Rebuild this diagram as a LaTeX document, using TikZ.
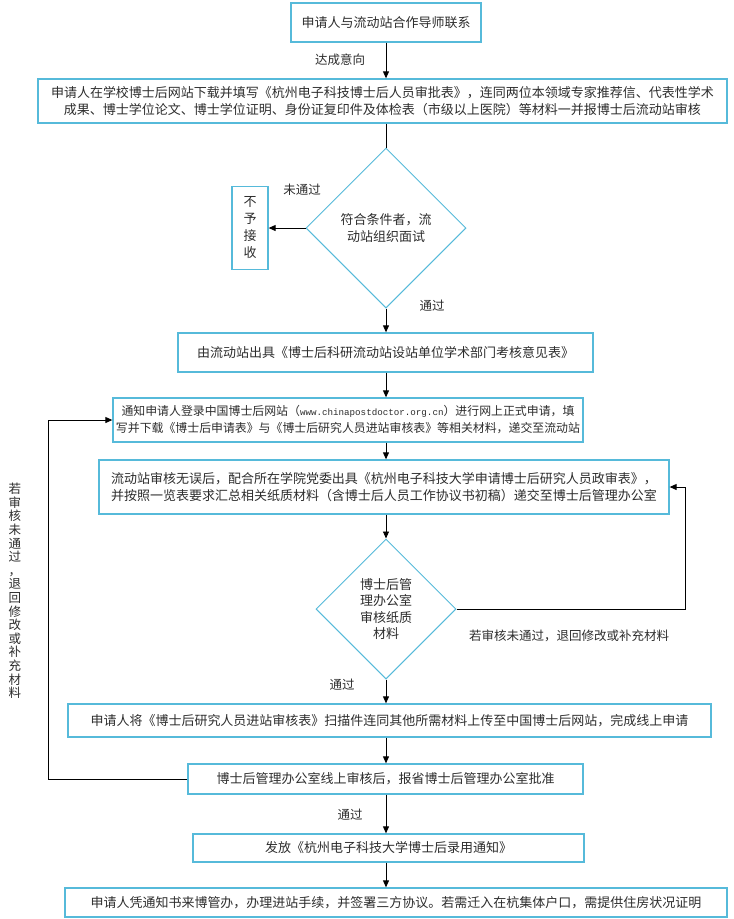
\documentclass[tikz,border=0pt]{standalone}
\usepackage{fontspec}
\newfontfamily\cjk{Noto Sans CJK SC}
\newfontfamily\urlf{Liberation Mono}
\usetikzlibrary{arrows.meta,shapes.geometric}
\definecolor{bordc}{RGB}{86,186,218}
\definecolor{txtc}{RGB}{45,45,45}
\tikzset{
  box/.style={draw=bordc, line width=1.3pt, fill=white, inner sep=0pt, align=center, text=txtc,
     font=\cjk\fontsize{13}{17}\selectfont},
  dia/.style={draw=bordc, line width=1pt, diamond, aspect=1, inner sep=0pt, align=center, text=txtc,
     font=\cjk\fontsize{13}{17}\selectfont},
  lbl/.style={text=txtc, inner sep=0pt, align=center, font=\cjk\fontsize{12.5}{13.6}\selectfont},
  arr/.style={draw=black, line width=0.9pt, -{Triangle[length=7pt,width=6pt]}},
  ln/.style={draw=black, line width=0.9pt}
}
\begin{document}
\begin{tikzpicture}[x=1pt,y=-1pt]
\useasboundingbox (0,0) rectangle (734,919);
\fill[white] (0,0) rectangle (734,919);
\coordinate (axis) at (386,0);

\node[box, minimum width=190pt, minimum height=39pt] (b1) at (386,22.5) {申请人与流动站合作导师联系};
\node[box, minimum width=689pt, minimum height=44pt] (b2) at (382.5,101) {申请人在学校博士后网站下载并填写《杭州电子科技博士后人员审批表》，连同两位本领域专家推荐信、代表性学术\\成果、博士学位论文、博士学位证明、身份证复印件及体检表（市级以上医院）等材料一并报博士后流动站审核};
\node[dia, minimum size=160pt] (d1) at (386,228) {符合条件者，流\\动站组织面试};
\node[box, minimum width=36pt, minimum height=83pt] (no) at (250,228) {不\\予\\接\\收};
\node[box, minimum width=415pt, minimum height=39pt] (b3) at (385.5,352.5) {由流动站出具《博士后科研流动站设站单位学术部门考核意见表》};
\node[box, minimum width=470pt, minimum height=44pt, font=\cjk\fontsize{11.9}{17}\selectfont] (b4) at (348,420) {通知申请人登录中国博士后网站（{\urlf\fontsize{9.2}{10}\selectfont www.chinapostdoctor.org.cn}）进行网上正式申请，填\\写并下载《博士后申请表》与《博士后研究人员进站审核表》等相关材料，递交至流动站};
\node[box, minimum width=570pt, minimum height=54pt] (b5) at (384,487) {流动站审核无误后，配合所在学院党委出具《杭州电子科技大学申请博士后研究人员政审表》，\\并按照一览表要求汇总相关纸质材料（含博士后人员工作协议书初稿）递交至博士后管理办公室};
\node[dia, minimum size=140pt, font=\cjk\fontsize{13}{16.5}\selectfont] (d2) at (386,609) {博士后管\\理办公室\\审核纸质\\材料};
\node[box, minimum width=643pt, minimum height=33pt] (b6) at (389.5,720.5) {申请人将《博士后研究人员进站审核表》扫描件连同其他所需材料上传至中国博士后网站，完成线上申请};
\node[box, minimum width=395pt, minimum height=30pt] (b7) at (385.5,779) {博士后管理办公室线上审核后，报省博士后管理办公室批准};
\node[box, minimum width=391pt, minimum height=28pt] (b8) at (388.5,848) {发放《杭州电子科技大学博士后录用通知》};
\node[box, minimum width=662pt, minimum height=29pt] (b9) at (396,902.5) {申请人凭通知书来博管办，办理进站手续，并签署三方协议。若需迁入在杭集体户口，需提供住房状况证明};

% labels
\node[lbl] (l1) at (340,60) {达成意向};
\node[lbl] (l2) at (302,190) {未通过};
\node[lbl] (l3) at (432,306) {通过};
\node[lbl] (l4) at (569,636) {若审核未通过，退回修改或补充材料};
\node[lbl] (l5) at (342,685) {通过};
\node[lbl] (l6) at (350,815) {通过};
\node[lbl] (l7) at (15,591) {若\\审\\核\\未\\通\\过\\，\\退\\回\\修\\改\\或\\补\\充\\材\\料};

% connectors
\draw[arr] (b1.south -| axis) -- (b2.north -| axis);
\draw[ln] (b2.south -| axis) -- (d1.north);
\draw[arr] (d1.west) -- (no.east);
\draw[arr] (d1.south) -- (b3.north -| axis);
\draw[arr] (b3.south -| axis) -- (b4.north -| axis);
\draw[arr] (b4.south -| axis) -- (b5.north -| axis);
\draw[arr] (b5.south -| axis) -- (d2.north);
\coordinate (rc) at (685,0);
\draw[arr] (d2.east) -- (d2.east -| rc) -- (b5.east -| rc) -- (b5.east);
\draw[arr] (d2.south) -- (b6.north -| axis);
\draw[arr] (b6.south -| axis) -- (b7.north -| axis);
\coordinate (lc) at (48,0);
\draw[arr] (b7.west) -- (b7.west -| lc) -- (b4.west -| lc) -- (b4.west);
\draw[arr] (b7.south -| axis) -- (b8.north -| axis);
\draw[arr] (b8.south -| axis) -- (b9.north -| axis);
\end{tikzpicture}
\end{document}
